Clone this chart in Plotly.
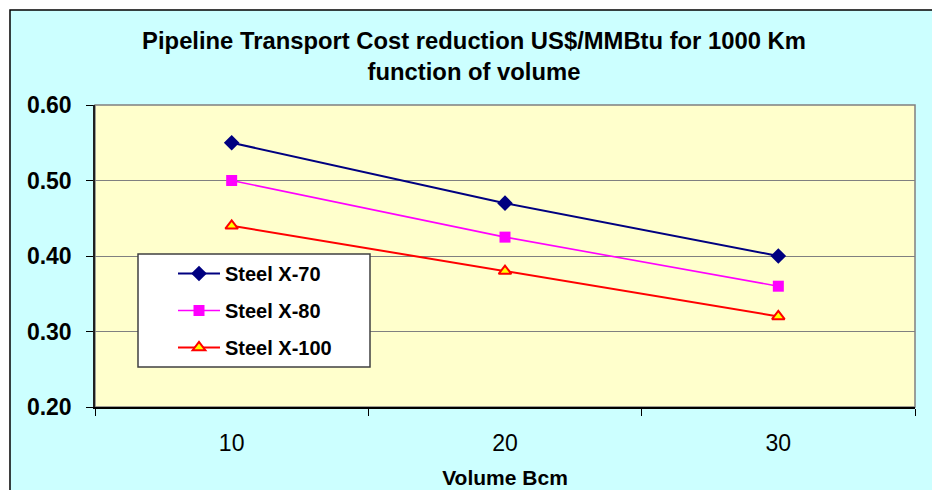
import plotly.graph_objects as go

volumes = ["10", "20", "30"]
steel_x70 = [0.55, 0.47, 0.40]
steel_x80 = [0.50, 0.425, 0.36]
steel_x100 = [0.44, 0.38, 0.32]
series_names = ["Steel X-70", "Steel X-80", "Steel X-100"]

FONT = "Arial, Liberation Sans, sans-serif"
OFF = 8  # page body margin offset

fig = go.Figure()
fig.add_trace(go.Scatter(
    x=volumes, y=steel_x70, name="<b>" + series_names[0] + "</b>", mode="lines+markers",
    line=dict(color="#000080", width=2),
    marker=dict(symbol="diamond", size=12, color="#000080"),
    legendgroup="a"))
fig.add_trace(go.Scatter(
    x=volumes, y=steel_x80, name="<b>" + series_names[1] + "</b>", mode="lines+markers",
    line=dict(color="#FF00FF", width=1.6),
    marker=dict(symbol="square", size=11, color="#FF00FF"),
    legendgroup="b"))
fig.add_trace(go.Scatter(
    x=volumes, y=steel_x100, name="<b>" + series_names[2] + "</b>", mode="lines+markers",
    line=dict(color="#FF0000", width=2),
    marker=dict(symbol="triangle-up", size=11, color="#FFFF00",
                line=dict(color="#FF0000", width=2)),
    legendgroup="c"))

# outer chart area (cyan with black border)
fig.add_shape(type="rect", xref="paper", yref="paper",
              x0=-0.10366, x1=1.06, y0=-0.34, y1=1.3146,
              fillcolor="#CCFFFF", line=dict(color="#000000", width=1.5),
              layer="below")
# plot area (yellow with gray border)
fig.add_shape(type="rect", xref="x domain", yref="y domain",
              x0=0, x1=1, y0=0, y1=1,
              fillcolor="#FFFFCC", line=dict(color="#808080", width=1.5),
              layer="below")
# legend box
fig.add_shape(type="rect", xref="paper", yref="paper",
              x0=0.05244, x1=0.33537, y0=0.13245, y1=0.50662,
              fillcolor="#FFFFFF", line=dict(color="#404040", width=1.5),
              layer="above")

fig.update_layout(
    width=940, height=490,
    margin=dict(l=95 - OFF, r=25 + OFF, t=105 - OFF, b=83 + OFF),
    paper_bgcolor="#FFFFFF",
    plot_bgcolor="#FFFFCC",
    font=dict(family=FONT, color="#000000"),
    title=dict(
        text="<b>Pipeline Transport Cost reduction US$/MMBtu for 1000 Km<br>function of volume</b>",
        x=(474 - OFF) / 940, xref="container", xanchor="center",
        y=1 - (49 - OFF) / 490, yref="container", yanchor="middle",
        font=dict(size=23.8, family=FONT, color="#000000")),
    showlegend=True,
    legend=dict(
        x=(173 - 95) / 820, xanchor="left",
        y=(407 - 254) / 302, yanchor="top",
        bgcolor="rgba(0,0,0,0)", borderwidth=0,
        tracegroupgap=8, itemwidth=42,
        font=dict(size=20, family=FONT, color="#000000")),
    xaxis=dict(
        type="category", range=[-0.5, 2.5],
        tickson="boundaries", ticks="outside", ticklen=7, tickcolor="#000000",
        showgrid=False, showline=True, linecolor="#000000", linewidth=1.5,
        tickfont=dict(size=23, family=FONT, color="#000000"),
        ticklabelstandoff=15,
        title=dict(text="<b>Volume Bcm</b>", font=dict(size=21, family=FONT, color="#000000"),
                   standoff=15)),
    yaxis=dict(
        range=[0.20, 0.60], dtick=0.10, tickformat=".2f",
        ticks="outside", ticklen=7, tickcolor="#000000",
        showgrid=True, gridcolor="#808080", gridwidth=1.2,
        zeroline=False,
        showline=True, linecolor="#202020", linewidth=1.5,
        tickfont=dict(size=23, family=FONT, color="#000000"),
        ticklabelstandoff=10),
)
fig.update_yaxes(tickprefix="<b>", ticksuffix="</b>")

fig.write_html("out.html")
